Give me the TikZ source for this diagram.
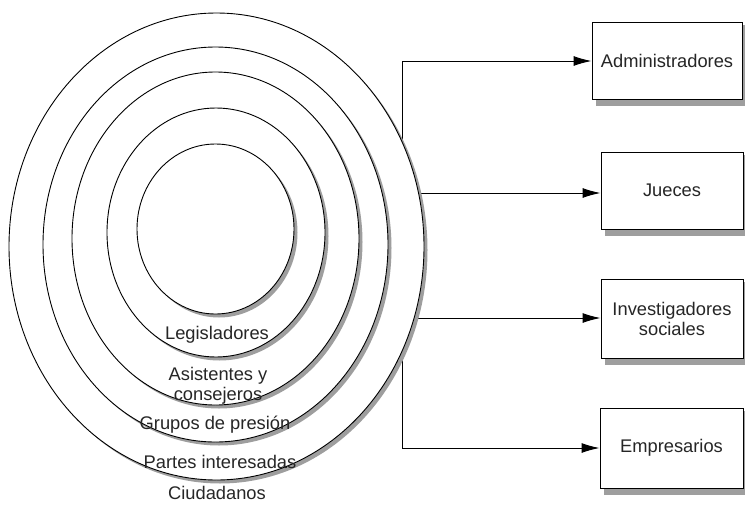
\documentclass[tikz,border=0pt]{standalone}
\usepackage{fontspec}
\setmainfont{Liberation Sans}
\usetikzlibrary{shapes.geometric,arrows.meta}
\begin{document}
\begin{tikzpicture}[x=1pt,y=-1pt,
  ring/.style={ellipse,draw=black,fill=white,line width=0.9pt,inner sep=0pt},
  shade/.style={fill=black!38},
  rlabel/.style={text=black!85,font=\fontsize{18.3}{20}\selectfont,align=center,inner sep=0pt},
  boxnode/.style={rectangle,draw=black,fill=white,line width=1pt,inner sep=0pt,
    text=black!85,font=\fontsize{18.3}{20}\selectfont,align=center},
  arr/.style={line width=1pt,-{Latex[length=18pt,width=10pt]}},
  bus/.style={line width=1pt}]
\useasboundingbox (0,0) rectangle (745,504);
% box shadows
\fill[shade] (596,25) rectangle (747,106);
\fill[shade] (605,155) rectangle (747,236);
\fill[shade] (605,282) rectangle (747,365);
\fill[shade] (604,411) rectangle (747,495);
% boxes
\node[boxnode,minimum width=150pt,minimum height=77pt] (b1) at (667,60.5) {Administradores};
\node[boxnode,minimum width=142pt,minimum height=77pt] (b2) at (672,190.5) {Jueces};
\node[boxnode,minimum width=142pt,minimum height=79pt] (b3) at (672,318.5) {Investigadores\\sociales};
\node[boxnode,minimum width=143pt,minimum height=80pt] (b4) at (671.5,448) {Empresarios};
% connectors
\coordinate (bt) at (402,61);
\coordinate (j2) at (402,193);
\coordinate (j3) at (402,318);
\coordinate (bb) at (402,448);
\draw[bus] (bt) -- (bb);
\draw[arr] (bt) -- (bt -| b1.west);
\draw[arr] (j2) -- (j2 -| b2.west);
\draw[arr] (j3) -- (j3 -| b3.west);
\draw[arr] (bb) -- (bb -| b4.west);
% rings with shadows
\fill[shade] (220,250) ellipse [x radius=207.5, y radius=233.5];
\node[ring,minimum width=415pt,minimum height=467pt] (e1) at (216.5,246.5) {};
\fill[shade] (219,248) ellipse [x radius=172.5, y radius=197.5];
\node[ring,minimum width=345pt,minimum height=395pt] (e2) at (215.5,244.5) {};
\fill[shade] (219,242) ellipse [x radius=143.5, y radius=166.5];
\node[ring,minimum width=287pt,minimum height=333pt] (e3) at (215.5,238.5) {};
\fill[shade] (219.5,236) ellipse [x radius=109, y radius=124.5];
\node[ring,minimum width=218pt,minimum height=249pt] (e4) at (216,232.5) {};
\fill[shade] (219,232.5) ellipse [x radius=78.5, y radius=85];
\node[ring,minimum width=157pt,minimum height=170pt] (e5) at (215.5,229) {};
% labels
\node[rlabel] (l1) at (217,335) {Legisladores};
\node[rlabel] (l2) at (218,385.5) {Asistentes y\\consejeros};
\node[rlabel] (l3) at (215,425) {Grupos de presión};
\node[rlabel] (l4) at (220,462) {Partes interesadas};
\node[rlabel] (l5) at (217,493) {Ciudadanos};
\end{tikzpicture}
\end{document}
